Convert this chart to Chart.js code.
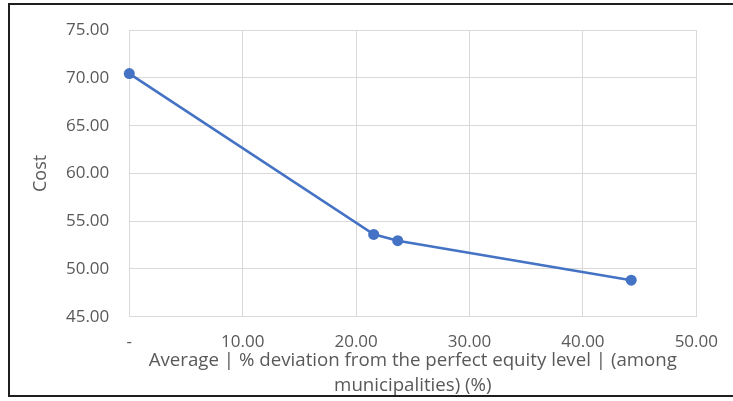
<!DOCTYPE html>
<html>
<head>
<meta charset="utf-8">
<script src="https://cdn.jsdelivr.net/npm/chart.js@4/dist/chart.umd.min.js"></script>
<style>
  html, body { margin: 0; padding: 0; background: #ffffff; overflow: hidden; }
  #wrap { position: relative; width: 733px; height: 401px; }
  #frame { position: absolute; left: 8px; top: 3px; width: 800px; height: 394px; border: 2px solid #1e1e1e; box-sizing: border-box; }
  canvas { position: absolute; left: 0; top: 0; }
</style>
</head>
<body>
<div id="wrap">
  <div id="frame"></div>
  <canvas id="c" width="733" height="401"></canvas>
</div>
<script>
const xValues = [0, 21.55, 23.67, 44.26];
const costValues = [70.46, 53.62, 52.96, 48.82];
const xTitleLines = ['Average | % deviation from the perfect equity level | (among', 'municipalities) (%)'];
const yTitle = 'Cost';

const points = xValues.map((x, i) => ({ x: x, y: costValues[i] }));
const textColor = '#595959';
const gridColor = '#d9d9d9';

new Chart(document.getElementById('c'), {
  type: 'scatter',
  data: {
    datasets: [{
      data: points,
      showLine: true,
      clip: false,
      borderColor: '#4472C4',
      backgroundColor: '#4472C4',
      borderWidth: 2.6,
      pointRadius: 5.5,
      pointHoverRadius: 5.5,
      pointBorderWidth: 0,
      tension: 0
    }]
  },
  options: {
    responsive: false,
    animation: false,
    devicePixelRatio: 1,
    layout: { padding: { left: 30, right: 36.3, top: 29, bottom: 0 } },
    plugins: { legend: { display: false }, tooltip: { enabled: false } },
    scales: {
      x: {
        type: 'linear',
        min: 0, max: 50,
        afterFit: (s) => { s.height = 401 - 316.7; },
        ticks: {
          stepSize: 10,
          padding: 15,
          color: textColor,
          font: { family: 'Open Sans', size: 17 },
          maxRotation: 0,
          callback: (v) => v === 0 ? '-' : Number(v).toFixed(2)
        },
        grid: { color: gridColor, lineWidth: 1, drawTicks: false },
        border: { color: gridColor, width: 1 },
        title: {
          display: true,
          text: xTitleLines,
          color: textColor,
          font: { family: 'Open Sans', size: 18.7, lineHeight: 1.35 },
          padding: { top: 0, bottom: 2.4 }
        }
      },
      y: {
        type: 'linear',
        min: 45, max: 75,
        afterFit: (s) => { s.width = 129.3 - 30; },
        ticks: {
          stepSize: 5,
          padding: 20,
          color: textColor,
          font: { family: 'Open Sans', size: 17 },
          callback: (v) => Number(v).toFixed(2)
        },
        grid: { color: gridColor, lineWidth: 1, drawTicks: false },
        border: { color: gridColor, width: 1 },
        title: {
          display: true,
          text: yTitle,
          color: textColor,
          font: { family: 'Open Sans', size: 18, lineHeight: 1.2 },
          padding: { top: 0, bottom: 0 }
        }
      }
    }
  }
});
</script>
</body>
</html>
